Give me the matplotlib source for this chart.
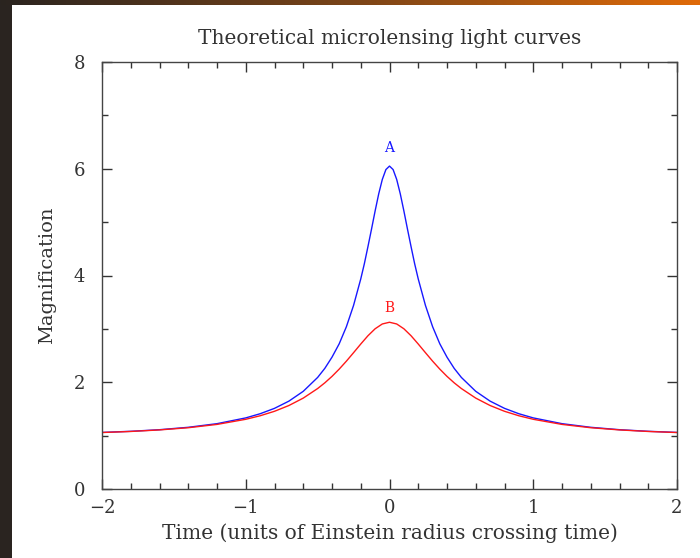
import matplotlib
matplotlib.use("Agg")
import matplotlib.pyplot as plt
from matplotlib.ticker import MultipleLocator
import numpy as np

# Values (right half, t >= 0; both curves are symmetric about t = 0)
time_a = [0.0, 0.025, 0.05, 0.075, 0.1, 0.125, 0.15, 0.175, 0.2, 0.25, 0.3, 0.35, 0.4,
          0.45, 0.5, 0.6, 0.7, 0.8, 0.9, 1.0, 1.2, 1.4, 1.6, 1.8, 2.0]
mag_a = [6.05, 5.985, 5.80, 5.53, 5.21, 4.87, 4.54, 4.22, 3.935, 3.44, 3.04, 2.72, 2.47,
         2.26, 2.09, 1.83, 1.646, 1.511, 1.41, 1.332, 1.224, 1.156, 1.111, 1.081, 1.060]

time_b = [0.0, 0.05, 0.1, 0.15, 0.2, 0.25, 0.3, 0.35, 0.4, 0.45, 0.5, 0.6, 0.7, 0.8,
          0.9, 1.0, 1.2, 1.4, 1.6, 1.8, 2.0]
mag_b = [3.124, 3.092, 3.002, 2.871, 2.716, 2.554, 2.395, 2.246, 2.11, 1.989, 1.882,
         1.703, 1.564, 1.456, 1.372, 1.306, 1.210, 1.148, 1.107, 1.078, 1.058]

curve_labels = ["A", "B"]
label_heights = [6.38, 3.40]
curve_colors = ["#1818ff", "#ff1818"]


def mirror(t, m):
    t = np.asarray(t)
    m = np.asarray(m)
    return np.concatenate([-t[:0:-1], t]), np.concatenate([m[:0:-1], m])


plt.rcParams["font.family"] = ["DejaVu Serif"]

fig = plt.figure(figsize=(7.0, 5.58), dpi=100)

# page decoration: dark strip on the left, gradient bar on top
strip = fig.add_axes([0, 0, 12 / 700, 1])
strip.set_facecolor("#2a2420")
strip.set_xticks([])
strip.set_yticks([])
for s in strip.spines.values():
    s.set_visible(False)

bar = fig.add_axes([0, 1 - 5 / 558, 1, 5 / 558])
grad = np.linspace(0, 1, 256).reshape(1, -1)
cmap = matplotlib.colors.LinearSegmentedColormap.from_list("bar", ["#2a2420", "#7a4418", "#e06a08"])
bar.imshow(grad, aspect="auto", cmap=cmap)
bar.axis("off")

ax = fig.add_axes([102 / 700, 69 / 558, 575 / 700, 427 / 558])

for (t, m), col, lab, h in zip([(time_a, mag_a), (time_b, mag_b)], curve_colors,
                               curve_labels, label_heights):
    tt, mm = mirror(t, m)
    ax.plot(tt, mm, color=col, lw=1.0)
    ax.text(0, h, lab, color=col, ha="center", va="center", fontsize=10)

ax.set_xlim(-2, 2)
ax.set_ylim(0, 8)
ax.xaxis.set_major_locator(MultipleLocator(1))
ax.xaxis.set_minor_locator(MultipleLocator(0.2))
ax.yaxis.set_major_locator(MultipleLocator(2))
ax.yaxis.set_minor_locator(MultipleLocator(1))
ax.tick_params(which="both", direction="in", top=True, right=True, colors="#333333",
               labelcolor="#333333", labelsize=13)
ax.tick_params(which="major", length=7, width=1)
ax.tick_params(which="minor", length=4, width=1)
ax.tick_params(axis="x", pad=7)
ax.tick_params(axis="y", pad=12)
for s in ax.spines.values():
    s.set_color("#444444")
    s.set_linewidth(1)

ax.set_title("Theoretical microlensing light curves", fontsize=14.5, pad=13, color="#333333")
ax.set_xlabel("Time (units of Einstein radius crossing time)", fontsize=14.5, labelpad=5,
              color="#333333")
ax.set_ylabel("Magnification", fontsize=14, labelpad=13, color="#333333")

fig.savefig("out.png", dpi=100)
